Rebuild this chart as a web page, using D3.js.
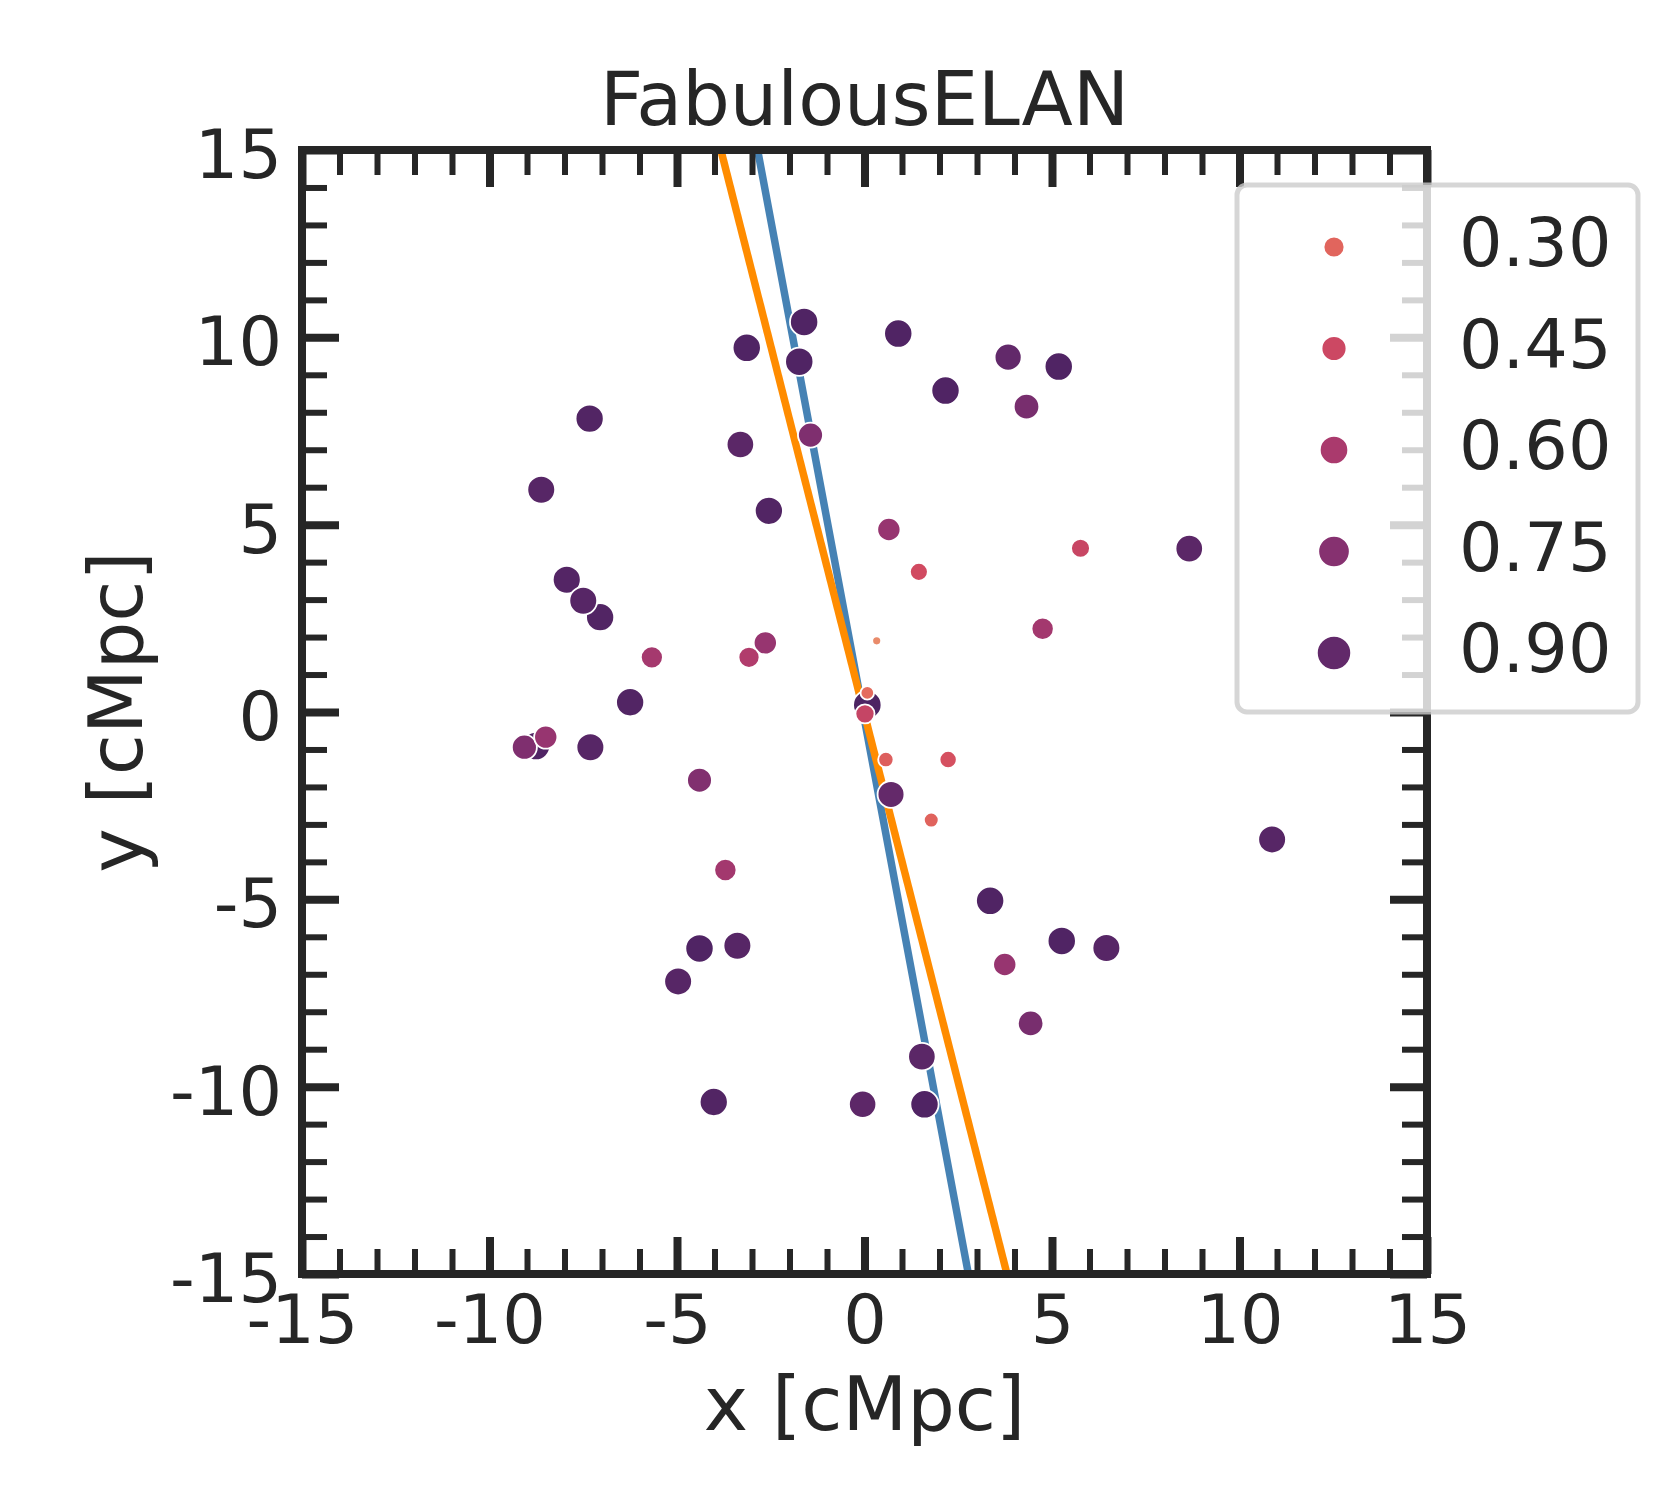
<!DOCTYPE html>
<html><head><meta charset="utf-8">
<script src="https://cdn.jsdelivr.net/npm/d3@7"></script>
<style>body{margin:0;background:#fff}svg{display:block}</style>
</head><body>
<svg id="chart" width="1680" height="1500"></svg>
<script>
// ---- data ----
const pointX = [-1.61,-3.14,-1.74,0.90,3.83,5.18,2.16,4.32,-1.44,-3.31,-7.33,-8.62,-2.55,0.65,1.45,5.76,8.66,-7.94,-7.05,-7.50,4.75,0.325,-2.645,-3.08,-5.67,-6.25,0.075,0.075,0.013,-8.76,-9.07,-8.50,-7.31,0.57,2.23,-4.40,0.707,1.78,10.87,-3.71,3.35,5.26,6.45,-4.40,-3.39,-4.97,3.74,4.43,1.53,-4.02,-0.05,1.60];
const pointY = [10.41,9.72,9.35,10.10,9.47,9.22,8.58,8.15,7.39,7.14,7.83,5.93,5.37,4.87,3.74,4.37,4.36,3.53,2.53,2.97,2.22,1.90,1.845,1.46,1.46,0.26,0.19,0.51,-0.05,-0.91,-0.94,-0.67,-0.94,-1.27,-1.27,-1.82,-2.20,-2.885,-3.40,-4.22,-5.04,-6.11,-6.30,-6.31,-6.24,-7.19,-6.74,-8.31,-9.20,-10.41,-10.47,-10.47];
const pointValue = [0.98,0.98,0.98,0.98,0.90,0.98,0.98,0.81,0.78,0.93,0.97,0.95,0.97,0.68,0.43,0.47,0.93,0.96,0.97,0.95,0.63,0.15,0.68,0.57,0.62,0.97,0.99,0.27,0.48,0.98,0.78,0.68,0.95,0.33,0.40,0.77,0.89,0.31,0.95,0.63,0.98,0.98,0.95,0.98,0.95,0.95,0.68,0.81,0.93,0.97,0.92,0.98];

const blueLineX = [-2.85, 2.77];
const blueLineY = [15, -15];
const orangeLineX = [-3.83, 3.80];
const orangeLineY = [15, -15];

const xTicks = [-15,-10,-5,0,5,10,15];
const yTicks = [-15,-10,-5,0,5,10,15];
const tickLabels = ["-15","-10","-5","0","5","10","15"];
const minorTicks = d3.range(-15, 16, 1);

const legendValues = [0.30,0.45,0.60,0.75,0.90];
const legendLabels = ["0.30","0.45","0.60","0.75","0.90"];

const titleText = "FabulousELAN";
const xLabel = "x [cMpc]";
const yLabel = "y [cMpc]";

// ---- layout ----
const L = 302, R = 1427, T = 150, B = 1274;
const ink = "#262626";
const svg = d3.select("#chart");
svg.append("rect").attr("width",1680).attr("height",1500).attr("fill","#fff");

const x = d3.scaleLinear().domain([-15,15]).range([L,R]);
const y = d3.scaleLinear().domain([-15,15]).range([B,T]);

const flareStops = ["#edb081","#e98d6b","#e3685c","#d14a61","#b13c6c","#8f3371","#6c2b6d","#4b2362"];
const color = d3.scaleLinear().domain(d3.range(8).map(i=>i/7)).range(flareStops).interpolate(d3.interpolateRgb).clamp(true);
const areaScale = d3.scaleLinear().domain([0.15,0.98]).range([80,800]);
const legendArea = d3.scaleLinear().domain([0.30,0.90]).range([441,1176]);

svg.append("defs").append("clipPath").attr("id","clip")
  .append("rect").attr("x",L).attr("y",T).attr("width",R-L).attr("height",B-T);

// fit lines
const lineGen = d3.line().x(d=>x(d[0])).y(d=>y(d[1]));
const lg = svg.append("g").attr("clip-path","url(#clip)");
lg.append("path").datum(d3.zip(blueLineX, blueLineY)).attr("d",lineGen)
  .attr("stroke","#4682b4").attr("stroke-width",7.5).attr("fill","none");
lg.append("path").datum(d3.zip(orangeLineX, orangeLineY)).attr("d",lineGen)
  .attr("stroke","#ff8c00").attr("stroke-width",7.5).attr("fill","none");

// points
svg.append("g").selectAll("circle").data(d3.range(pointX.length)).join("circle")
  .attr("cx",i=>x(pointX[i])).attr("cy",i=>y(pointY[i]))
  .attr("r",i=>Math.sqrt(areaScale(pointValue[i]))/2)
  .attr("fill",i=>color(pointValue[i]))
  .attr("stroke","#fff").attr("stroke-width",1.8);

function styleAxis(g, majorW){
  g.select(".domain").remove();
  g.selectAll(".tick line").attr("stroke",ink).attr("stroke-width",majorW);
}
const fs = 68.5;
const lfs = 75;
// minor ticks
[[d3.axisBottom(x),B],[d3.axisTop(x),T]].forEach(([ax,pos])=>{
  const g = svg.append("g").attr("transform",`translate(0,${pos})`)
    .call(ax.tickValues(minorTicks).tickSize(-25).tickFormat(""));
  styleAxis(g,6);
});
[[d3.axisLeft(y),L],[d3.axisRight(y),R]].forEach(([ax,pos])=>{
  const g = svg.append("g").attr("transform",`translate(${pos},0)`)
    .call(ax.tickValues(minorTicks).tickSize(-25).tickFormat(""));
  styleAxis(g,6);
});
// major ticks
const gxB = svg.append("g").attr("transform",`translate(0,${B})`)
  .call(d3.axisBottom(x).tickValues(xTicks).tickSize(-37).tickPadding(20).tickFormat((d,i)=>tickLabels[i]));
styleAxis(gxB,8);
gxB.selectAll("text").attr("fill",ink).attr("font-size",fs).attr("font-family","DejaVu Sans");
const gxT = svg.append("g").attr("transform",`translate(0,${T})`)
  .call(d3.axisTop(x).tickValues(xTicks).tickSize(-37).tickFormat(""));
styleAxis(gxT,8);
const gyL = svg.append("g").attr("transform",`translate(${L},0)`)
  .call(d3.axisLeft(y).tickValues(yTicks).tickSize(-37).tickPadding(20).tickFormat((d,i)=>tickLabels[i]));
styleAxis(gyL,8);
gyL.selectAll("text").attr("fill",ink).attr("font-size",fs).attr("font-family","DejaVu Sans").attr("dy","0.4em");
const gyR = svg.append("g").attr("transform",`translate(${R},0)`)
  .call(d3.axisRight(y).tickValues(yTicks).tickSize(-37).tickFormat(""));
styleAxis(gyR,8);

// spines
svg.append("rect").attr("x",L).attr("y",T).attr("width",R-L).attr("height",B-T)
  .attr("fill","none").attr("stroke",ink).attr("stroke-width",8).attr("stroke-linejoin","miter");

// titles
svg.append("text").attr("x",(L+R)/2).attr("y",125).attr("text-anchor","middle")
  .attr("font-family","DejaVu Sans").attr("font-size",lfs).attr("fill",ink).text(titleText);
svg.append("text").attr("x",(L+R)/2).attr("y",1430).attr("text-anchor","middle")
  .attr("font-family","DejaVu Sans").attr("font-size",lfs).attr("fill",ink).text(xLabel);
svg.append("text").attr("transform",`translate(142,${(T+B)/2}) rotate(-90)`).attr("text-anchor","middle")
  .attr("font-family","DejaVu Sans").attr("font-size",lfs).attr("fill",ink).text(yLabel);

// legend
const leg = svg.append("g");
leg.append("rect").attr("x",1237).attr("y",185).attr("width",401).attr("height",527).attr("rx",10)
  .attr("fill","#fff").attr("fill-opacity",0.8).attr("stroke","#cccccc").attr("stroke-opacity",0.8).attr("stroke-width",5);
const rowY = d3.scalePoint().domain(legendLabels).range([247,653]);
leg.selectAll("circle").data(legendValues).join("circle")
  .attr("cx",1334).attr("cy",(d,i)=>rowY(legendLabels[i]))
  .attr("r",d=>Math.sqrt(legendArea(d))/2)
  .attr("fill",d=>color(d)).attr("stroke","#fff").attr("stroke-width",1.8);
leg.selectAll("text").data(legendLabels).join("text")
  .attr("x",1459).attr("y",d=>rowY(d)+19)
  .attr("font-family","DejaVu Sans").attr("font-size",fs).attr("fill",ink).text(d=>d);
</script>
</body></html>
